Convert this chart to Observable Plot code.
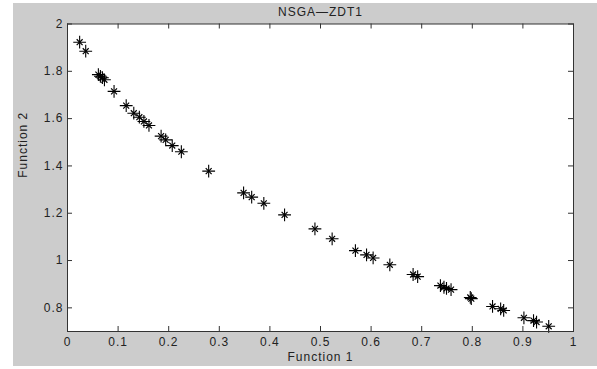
<!DOCTYPE html>
<html>
<head>
<meta charset="utf-8">
<script src="https://cdn.jsdelivr.net/npm/d3@7"></script>
<script src="https://cdn.jsdelivr.net/npm/@observablehq/plot@0.6"></script>
<style>
  html, body { margin: 0; padding: 0; background: #ffffff; }
  #wrap { position: absolute; left: 13px; top: 3px; width: 584px; height: 363px; background: #cccccc; }
  svg { font-family: "Liberation Sans", Arial, sans-serif; letter-spacing: 1px; }
</style>
</head>
<body>
<div id="wrap"></div>
<script>
const title = "NSGA\u2014ZDT1";
const xLabel = "Function 1";
const yLabel = "Function 2";
const xTicks = [0, 0.1, 0.2, 0.3, 0.4, 0.5, 0.6, 0.7, 0.8, 0.9, 1];
const yTicks = [0.8, 1, 1.2, 1.4, 1.6, 1.8, 2];
const f1 = [0.024, 0.036, 0.061, 0.065, 0.069, 0.073, 0.092, 0.116, 0.131, 0.142, 0.151, 0.161,
  0.185, 0.194, 0.207, 0.225, 0.279, 0.348, 0.364, 0.388, 0.429, 0.489, 0.523, 0.569, 0.591,
  0.604, 0.637, 0.683, 0.692, 0.737, 0.744, 0.749, 0.758, 0.796, 0.798, 0.840, 0.856, 0.862,
  0.902, 0.921, 0.927, 0.951];
const f2 = [1.923, 1.885, 1.786, 1.779, 1.773, 1.764, 1.715, 1.655, 1.623, 1.606, 1.588, 1.571,
  1.526, 1.510, 1.486, 1.460, 1.378, 1.286, 1.268, 1.242, 1.193, 1.134, 1.092, 1.042, 1.024,
  1.011, 0.982, 0.941, 0.932, 0.894, 0.887, 0.882, 0.877, 0.844, 0.839, 0.806, 0.796, 0.789,
  0.758, 0.746, 0.740, 0.722];

const points = f1.map((x, i) => ({x, y: f2[i]}));

const W = 584, H = 363;
const mL = 54, mR = 24, mT = 20.5, mB = 35;
const pw = W - mL - mR, ph = H - mT - mB;
const tick = 5;
const axisColor = "#333333";

const chart = Plot.plot({
  width: W,
  height: H,
  marginLeft: mL,
  marginRight: mR,
  marginTop: mT,
  marginBottom: mB,
  style: {background: "transparent", fontSize: "12px", color: "#222", fontFamily: "'Liberation Sans', Arial, sans-serif"},
  x: {domain: [0, 1]},
  y: {domain: [0.7, 2]},
  marks: [
    Plot.frame({fill: "white", stroke: "none"}),
    Plot.tickX(xTicks, {x: d => d, insetTop: ph - tick, stroke: axisColor}),
    Plot.tickX(xTicks, {x: d => d, insetBottom: ph - tick, stroke: axisColor}),
    Plot.tickY(yTicks, {y: d => d, insetRight: pw - tick, stroke: axisColor}),
    Plot.tickY(yTicks, {y: d => d, insetLeft: pw - tick, stroke: axisColor}),
    Plot.axisX({ticks: xTicks, tickSize: 0, tickPadding: 6, label: null, fontSize: 12, tickFormat: d => String(d)}),
    Plot.axisY({ticks: yTicks, tickSize: 0, tickPadding: 4, label: null, fontSize: 12, tickFormat: d => String(d)}),
    Plot.dot(points, {x: "x", y: "y", symbol: "plus", r: 4.2, stroke: "black", strokeWidth: 1.1}),
    Plot.dot(points, {x: "x", y: "y", symbol: "times", r: 2.8, stroke: "black", strokeWidth: 1.2}),
    Plot.frame({stroke: axisColor, strokeWidth: 1}),
    Plot.text([title], {frameAnchor: "top", lineAnchor: "middle", dy: -12, fontSize: 12, fill: "#222"}),
    Plot.text([xLabel], {frameAnchor: "bottom", lineAnchor: "middle", dy: 26, fontSize: 12, fill: "#222"}),
    Plot.text([yLabel], {frameAnchor: "left", lineAnchor: "middle", dx: -44, rotate: -90, fontSize: 12, fill: "#222"})
  ]
});
document.getElementById("wrap").appendChild(chart);
</script>
</body>
</html>
